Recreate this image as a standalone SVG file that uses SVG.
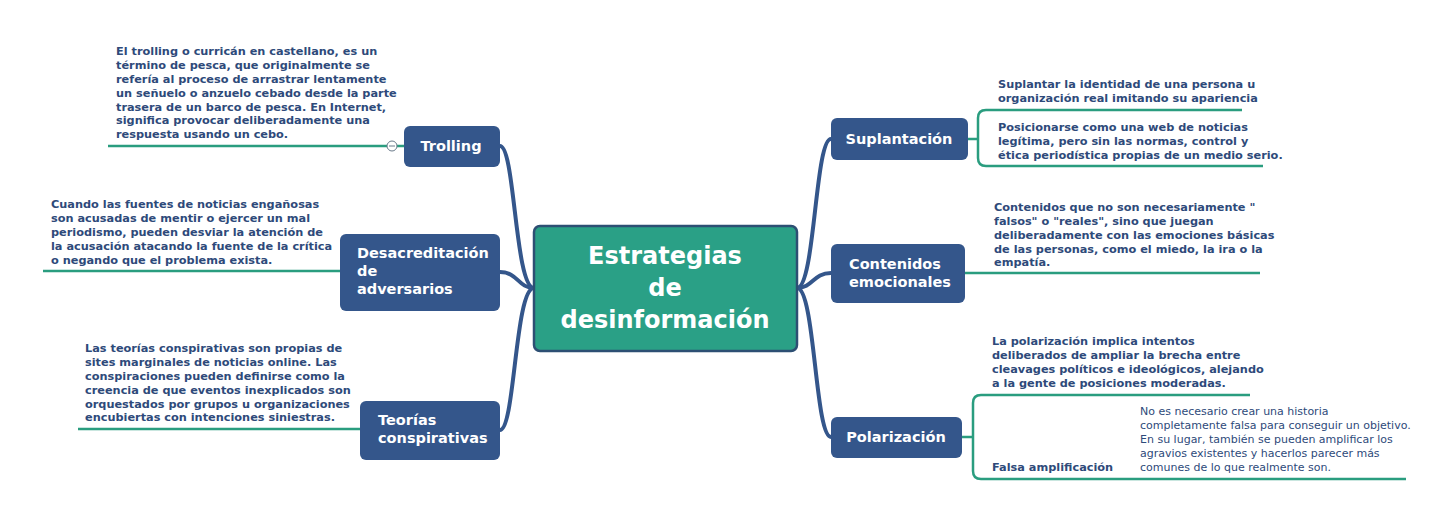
<svg xmlns="http://www.w3.org/2000/svg" width="1450" height="524" viewBox="0 0 1450 524">
<style>
.n{fill:#34568b}
.nt{font-family:"DejaVu Sans",Verdana,sans-serif;font-weight:bold;font-size:14.5px;fill:#fff}
.d{font-family:"DejaVu Sans",Verdana,sans-serif;font-weight:bold;font-size:11.3px;fill:#2e4a7a}
.dn{font-family:"DejaVu Sans",Verdana,sans-serif;font-size:11px;fill:#2e4a7a}
.u{fill:none;stroke:#2a9d7f;stroke-width:2.5}
.b{fill:none;stroke:#34568b;stroke-width:4;stroke-linecap:round}
</style>
<rect width="1450" height="524" fill="#fff"/>
<g id="connectors">
<path class="b" d="M534,288 C515,288 515,146 500,146"/>
<path class="b" d="M534,288 C518,288 518,272 500,272"/>
<path class="b" d="M534,288 C515,288 515,430 500,430"/>
<path class="b" d="M797,288 C815,288 815,139 831,139"/>
<path class="b" d="M797,288 C813,288 813,273 831,273"/>
<path class="b" d="M797,288 C815,288 815,437 831,437"/>
<path class="u" d="M108,146 H404"/>
<path class="u" d="M43,271 H340"/>
<path class="u" d="M78,429 H360"/>
<path class="u" d="M968,139 H978 M1242,110 H986 Q978,110 978,118 V158 Q978,166 986,166 H1263"/>
<path class="u" d="M965,273 H1260"/>
<path class="u" d="M962,437 H973 M1250,395 H981 Q973,395 973,403 V471 Q973,479 981,479 H1406"/>
<circle cx="392" cy="146" r="5" fill="#fff" stroke="#6a7a8a" stroke-width="1"/>
<path d="M389,146 H395" stroke="#6a7a8a" stroke-width="1"/>
</g>
<g id="center">
<rect x="534" y="226" width="263" height="125" rx="6" fill="#2aa086" stroke="#2d4f73" stroke-width="2.5"/>
<text class="nt" font-size="24" text-anchor="middle" style="font-size:24px"><tspan x="665" y="264">Estrategias</tspan><tspan x="665" y="296">de</tspan><tspan x="665" y="328">desinformación</tspan></text>
</g>
<g id="trolling">
<rect class="n" x="404" y="126" width="96" height="41" rx="6"/>
<text class="nt" x="451" y="151" text-anchor="middle">Trolling</text>
<text class="d"><tspan x="116" y="55">El trolling o curricán en castellano, es un</tspan><tspan x="116" y="69">término de pesca, que originalmente se</tspan><tspan x="116" y="83">refería al proceso de arrastrar lentamente</tspan><tspan x="116" y="97">un señuelo o anzuelo cebado desde la parte</tspan><tspan x="116" y="111">trasera de un barco de pesca. En Internet,</tspan><tspan x="116" y="124">significa provocar deliberadamente una</tspan><tspan x="116" y="138">respuesta usando un cebo.</tspan></text>
</g>
<g id="desacreditacion">
<rect class="n" x="340" y="234" width="160" height="77" rx="6"/>
<text class="nt"><tspan x="357" y="258">Desacreditación</tspan><tspan x="357" y="276">de</tspan><tspan x="357" y="294">adversarios</tspan></text>
<text class="d"><tspan x="51" y="208">Cuando las fuentes de noticias engañosas</tspan><tspan x="51" y="222">son acusadas de mentir o ejercer un mal</tspan><tspan x="51" y="236">periodismo, pueden desviar la atención de</tspan><tspan x="51" y="250">la acusación atacando la fuente de la crítica</tspan><tspan x="51" y="264">o negando que el problema exista.</tspan></text>
</g>
<g id="teorias">
<rect class="n" x="360" y="401" width="140" height="59" rx="6"/>
<text class="nt"><tspan x="378" y="425">Teorías</tspan><tspan x="378" y="443">conspirativas</tspan></text>
<text class="d"><tspan x="85" y="352">Las teorías conspirativas son propias de</tspan><tspan x="85" y="366">sites marginales de noticias online. Las</tspan><tspan x="85" y="380">conspiraciones pueden definirse como la</tspan><tspan x="85" y="394">creencia de que eventos inexplicados son</tspan><tspan x="85" y="408">orquestados por grupos u organizaciones</tspan><tspan x="85" y="421">encubiertas con intenciones siniestras.</tspan></text>
</g>
<g id="suplantacion">
<rect class="n" x="831" y="118" width="137" height="42" rx="6"/>
<text class="nt" x="899" y="144" text-anchor="middle">Suplantación</text>
<text class="d"><tspan x="998" y="88">Suplantar la identidad de una persona u</tspan><tspan x="998" y="102">organización real imitando su apariencia</tspan></text>
<text class="d"><tspan x="998" y="131">Posicionarse como una web de noticias</tspan><tspan x="998" y="145">legítima, pero sin las normas, control y</tspan><tspan x="998" y="159">ética periodística propias de un medio serio.</tspan></text>
</g>
<g id="contenidos">
<rect class="n" x="831" y="244" width="134" height="59" rx="6"/>
<text class="nt"><tspan x="849" y="269">Contenidos</tspan><tspan x="849" y="287">emocionales</tspan></text>
<text class="d"><tspan x="994" y="211">Contenidos que no son necesariamente "</tspan><tspan x="994" y="225">falsos" o "reales", sino que juegan</tspan><tspan x="994" y="239">deliberadamente con las emociones básicas</tspan><tspan x="994" y="253">de las personas, como el miedo, la ira o la</tspan><tspan x="994" y="266">empatía.</tspan></text>
</g>
<g id="polarizacion">
<rect class="n" x="831" y="417" width="131" height="41" rx="6"/>
<text class="nt" x="896" y="442" text-anchor="middle">Polarización</text>
<text class="d"><tspan x="992" y="345">La polarización implica intentos</tspan><tspan x="992" y="359">deliberados de ampliar la brecha entre</tspan><tspan x="992" y="373">cleavages políticos e ideológicos, alejando</tspan><tspan x="992" y="387">a la gente de posiciones moderadas.</tspan></text>
<text class="d" x="992" y="471">Falsa amplificación</text>
<text class="dn"><tspan x="1140" y="415">No es necesario crear una historia</tspan><tspan x="1140" y="429">completamente falsa para conseguir un objetivo.</tspan><tspan x="1140" y="443">En su lugar, también se pueden amplificar los</tspan><tspan x="1140" y="457">agravios existentes y hacerlos parecer más</tspan><tspan x="1140" y="471">comunes de lo que realmente son.</tspan></text>
</g>
</svg>
